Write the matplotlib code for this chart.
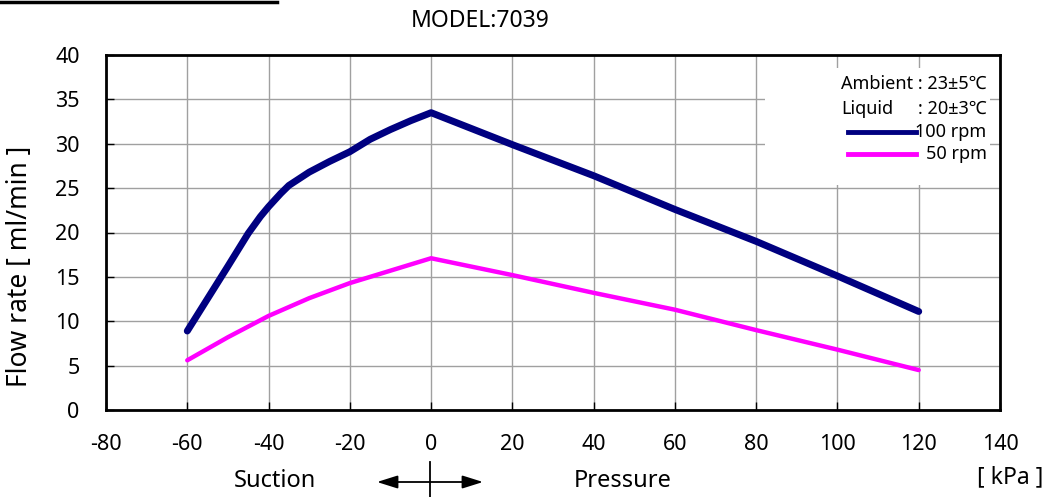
import numpy as np
import matplotlib.pyplot as plt

# Data
p_100 = [-60, -50, -45, -42, -40, -37, -35, -32, -30, -25, -20, -15, -10, -5, 0,
         20, 40, 60, 80, 100, 120]
q_100 = [8.9, 16.2, 19.9, 21.8, 22.9, 24.4, 25.3, 26.2, 26.8, 28.0, 29.1, 30.5, 31.6, 32.6, 33.5,
         29.9, 26.4, 22.6, 19.0, 15.1, 11.1]

p_50 = [-60, -50, -40, -30, -20, 0, 20, 40, 60, 80, 100, 120]
q_50 = [5.6, 8.2, 10.6, 12.6, 14.3, 17.1, 15.2, 13.2, 11.3, 9.0, 6.8, 4.5]

x_ticks = [-80, -60, -40, -20, 0, 20, 40, 60, 80, 100, 120, 140]
y_ticks = [0, 5, 10, 15, 20, 25, 30, 35, 40]

plt.rcParams['font.family'] = ['Noto Sans', 'DejaVu Sans']
plt.rcParams['axes.unicode_minus'] = False

W, H = 1047, 497
fig = plt.figure(figsize=(W / 100, H / 100), dpi=100)
ax = fig.add_axes([106 / W, 1 - 410 / H, 894 / W, 355 / H])

ax.set_xlim(-80, 140)
ax.set_ylim(0, 40)
ax.set_xticks(x_ticks)
ax.set_yticks(y_ticks)
ax.tick_params(direction='in', length=6, width=1, labelsize=15.5)
ax.tick_params(axis='y', pad=19)
ax.tick_params(axis='x', pad=17)
ax.grid(True, color='#a0a0a0', linewidth=1)
ax.set_axisbelow(True)
for s in ax.spines.values():
    s.set_linewidth(2)
    s.set_color('black')

ax.plot(p_100, q_100, color='#000080', linewidth=5, solid_capstyle='round',
        solid_joinstyle='round', zorder=3)
ax.plot(p_50, q_50, color='#ff00ff', linewidth=3.2, solid_capstyle='round',
        solid_joinstyle='round', zorder=3)

# legend box
ax.add_patch(plt.Rectangle((0.737, 0.634), 0.252, 0.329, transform=ax.transAxes,
                           facecolor='white', edgecolor='none', zorder=2))
fs = 13
ax.text(0.985, 0.918, 'Ambient : 23±5℃', transform=ax.transAxes, ha='right',
        va='center', fontsize=fs, zorder=4)
ax.text(0.822, 0.848, 'Liquid', transform=ax.transAxes, ha='left', va='center',
        fontsize=fs, zorder=4)
ax.text(0.985, 0.848, ': 20±3℃', transform=ax.transAxes, ha='right', va='center',
        fontsize=fs, zorder=4)
ax.plot([0.83, 0.906], [0.783, 0.783], transform=ax.transAxes, color='#000080',
        linewidth=3.5, zorder=4)
ax.plot([0.83, 0.906], [0.721, 0.721], transform=ax.transAxes, color='#ff00ff',
        linewidth=3.5, zorder=4)
ax.text(0.985, 0.783, '100 rpm', transform=ax.transAxes, ha='right', va='center',
        fontsize=fs, zorder=4)
ax.text(0.985, 0.721, '50 rpm', transform=ax.transAxes, ha='right', va='center',
        fontsize=fs, zorder=4)

fig.text(20 / W, 1 - 266 / H, 'Flow rate [ ml/min ]', rotation=90, ha='center',
         va='center', fontsize=19)
fig.text(480 / W, 1 - 21 / H, 'MODEL:7039', ha='center', va='center', fontsize=16.5)
fig.text(275 / W, 1 - 481 / H, 'Suction', ha='center', va='center', fontsize=17)
fig.text(623 / W, 1 - 481 / H, 'Pressure', ha='center', va='center', fontsize=17)
fig.text(1010 / W, 1 - 477 / H, '[ kPa ]', ha='center', va='center', fontsize=16.5)

# top-left rule
fig.add_artist(plt.Line2D([0, 277 / W], [1 - 1.5 / H, 1 - 1.5 / H], color='black',
                          linewidth=2.5))

# suction / pressure arrow
for x_end in (377, 483):
    ax.annotate('', xy=(x_end / W, 1 - 482 / H), xytext=(430 / W, 1 - 482 / H),
                xycoords='figure fraction',
                arrowprops=dict(arrowstyle='-|>,head_length=0.7,head_width=0.22',
                                color='black', lw=1.3, mutation_scale=18,
                                shrinkA=0, shrinkB=0))
fig.add_artist(plt.Line2D([430 / W, 430 / W], [1 - 462 / H, 0], color='black',
                          linewidth=1.3))

fig.savefig('out.png', dpi=100)
